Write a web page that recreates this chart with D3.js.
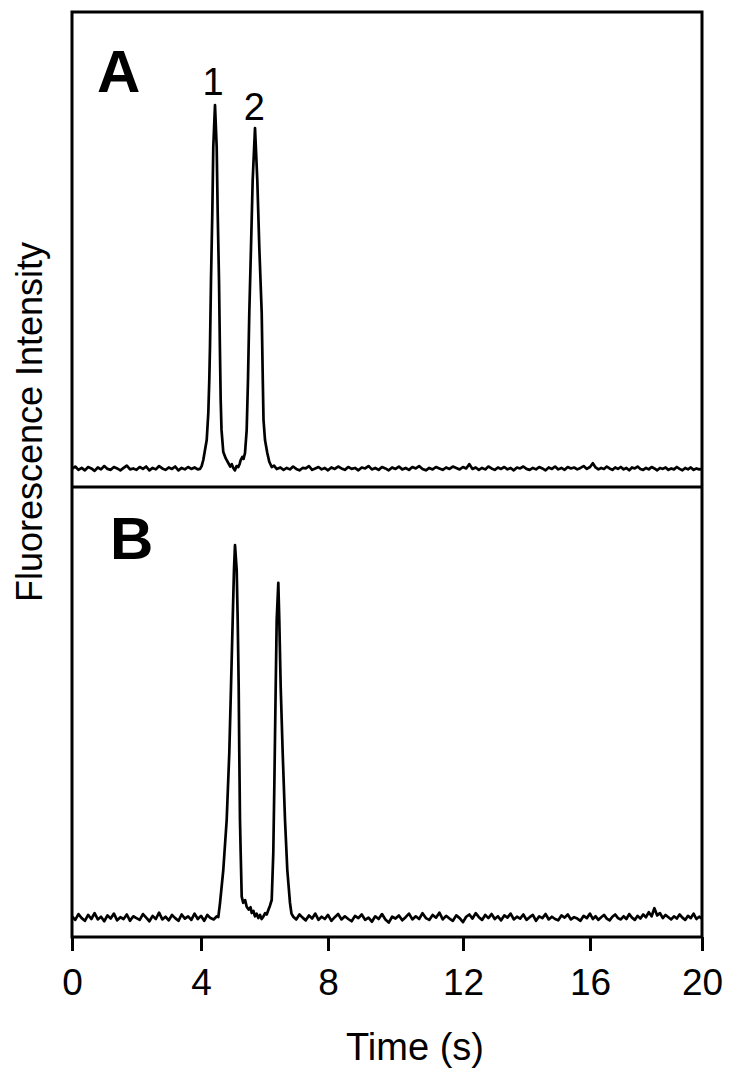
<!DOCTYPE html>
<html>
<head>
<meta charset="utf-8">
<script src="https://cdn.jsdelivr.net/npm/d3@7"></script>
<style>
  html, body { margin: 0; padding: 0; background: #fff; }
  svg { display: block; }
  text { font-family: "Liberation Sans", Arial, sans-serif; fill: #000; }
</style>
</head>
<body>
<svg id="chart" width="750" height="1079"></svg>
<script>
// ---- data ----
const xTickValues = [0, 4, 8, 12, 16, 20];
const xTickLabels = ["0", "4", "8", "12", "16", "20"];
const xTitle = "Time (s)";
const yTitle = "Fluorescence Intensity";
const panelLetters = ["A", "B"];

// Panel A trace: [time (s), intensity (a.u.)]
const traceA = [
  [0.0,3.8],[0.1,4.3],[0.2,3.6],[0.3,4.0],[0.4,3.5],[0.5,4.2],[0.6,3.9],[0.7,3.4],[0.8,4.1],[0.9,3.7],
  [1.0,4.4],[1.1,3.8],[1.2,3.6],[1.3,4.2],[1.4,3.9],[1.5,3.5],[1.6,4.0],[1.7,4.5],[1.8,3.7],[1.9,3.9],
  [2.0,3.6],[2.1,4.2],[2.2,3.8],[2.3,4.3],[2.4,3.5],[2.5,4.0],[2.6,3.7],[2.7,4.4],[2.8,3.9],[2.9,3.6],
  [3.0,4.1],[3.1,3.8],[3.2,4.3],[3.3,3.5],[3.4,4.0],[3.5,3.7],[3.6,4.2],[3.7,3.8],[3.8,4.1],[3.9,3.7],
  [3.97,3.8],[4.02,4.4],[4.072,5.67],[4.18,9.87],[4.23,15.55],[4.261,22.48],[4.283,29.41],[4.315,43.49],
  [4.356,57.56],[4.387,71.43],[4.441,80.25],[4.494,71.43],[4.526,57.56],[4.567,43.49],[4.595,29.41],
  [4.62,18.3],[4.646,12.0],[4.702,7.35],[4.78,6.0],[4.86,5.04],[4.92,4.3],[4.97,4.8],[5.017,3.99],
  [5.07,3.5],[5.12,4.4],[5.175,4.2],[5.22,4.9],[5.25,5.67],[5.30,6.3],[5.34,5.9],[5.386,7.14],
  [5.439,11.97],[5.48,22.48],[5.521,36.55],[5.575,50.4],[5.628,64.5],[5.701,75.4],[5.773,64.5],
  [5.836,50.4],[5.912,36.55],[5.946,22.48],[5.969,14.08],[6.016,9.87],[6.088,7.14],[6.15,5.3],
  [6.227,4.2],[6.30,4.5],[6.384,3.78],
  [6.5,4.1],[6.6,3.6],[6.7,4.0],[6.8,3.7],[6.9,4.3],[7.0,3.8],[7.1,3.5],[7.2,4.0],[7.3,3.9],[7.4,4.4],
  [7.5,3.6],[7.6,3.9],[7.7,4.2],[7.8,3.7],[7.9,4.0],[8.0,3.5],[8.1,4.1],[8.2,3.8],[8.3,4.3],[8.4,3.9],
  [8.5,3.6],[8.6,4.2],[8.7,3.8],[8.8,4.0],[8.9,3.5],[9.0,4.1],[9.1,3.9],[9.2,4.4],[9.3,3.7],[9.4,4.0],
  [9.5,3.6],[9.6,4.2],[9.7,3.9],[9.8,3.5],[9.9,4.1],[10.0,3.8],[10.1,4.3],[10.2,3.7],[10.3,4.0],[10.4,3.6],
  [10.5,4.2],[10.6,3.9],[10.7,4.4],[10.8,3.8],[10.9,3.5],[11.0,4.0],[11.1,3.7],[11.2,4.2],[11.3,3.9],[11.4,3.6],
  [11.5,4.1],[11.6,3.8],[11.7,4.3],[11.8,4.0],[11.9,3.7],[12.0,4.2],[12.1,3.9],[12.2,4.8],[12.3,3.8],[12.4,4.1],
  [12.5,3.6],[12.6,4.0],[12.7,3.7],[12.8,4.3],[12.9,3.9],[13.0,3.6],[13.1,4.1],[13.2,3.8],[13.3,4.2],[13.4,3.7],
  [13.5,4.0],[13.6,3.5],[13.7,4.1],[13.8,3.9],[13.9,4.3],[14.0,3.8],[14.1,3.6],[14.2,4.0],[14.3,3.7],[14.4,4.2],
  [14.5,3.9],[14.6,3.5],[14.7,4.1],[14.8,3.8],[14.9,4.3],[15.0,3.7],[15.1,4.0],[15.2,3.6],[15.3,4.2],[15.4,3.9],
  [15.5,4.1],[15.6,3.7],[15.7,4.0],[15.8,4.4],[15.9,3.8],[16.0,4.2],[16.1,5.0],[16.2,4.1],[16.3,3.7],[16.4,4.0],
  [16.5,3.8],[16.6,4.3],[16.7,3.9],[16.8,3.6],[16.9,4.1],[17.0,3.8],[17.1,4.2],[17.2,3.7],[17.3,4.0],[17.4,3.5],
  [17.5,4.1],[17.6,3.9],[17.7,4.3],[17.8,3.8],[17.9,3.6],[18.0,4.0],[18.1,3.7],[18.2,4.2],[18.3,3.9],[18.4,3.5],
  [18.5,4.0],[18.6,3.8],[18.7,4.1],[18.8,3.6],[18.9,3.9],[19.0,3.7],[19.1,4.2],[19.2,3.8],[19.3,3.5],[19.4,4.0],
  [19.5,3.7],[19.6,4.1],[19.7,3.6],[19.8,3.9],[19.9,3.7],[20.0,3.8]
];

// Panel B trace: [time (s), intensity (a.u.)]
const traceB = [
  [0.0,4.6],[0.1,3.8],[0.2,5.1],[0.3,4.2],[0.4,3.6],[0.5,4.9],[0.6,4.0],[0.7,5.3],[0.8,3.9],[0.9,4.5],
  [1.0,3.5],[1.1,4.8],[1.2,4.1],[1.3,5.2],[1.4,3.7],[1.5,4.4],[1.6,4.0],[1.7,5.0],[1.8,3.6],[1.9,4.6],
  [2.0,4.2],[2.1,3.8],[2.2,5.1],[2.3,4.3],[2.4,3.5],[2.5,4.7],[2.6,4.0],[2.7,5.4],[2.8,3.9],[2.9,4.5],
  [3.0,3.7],[3.1,4.9],[3.2,4.2],[3.3,3.6],[3.4,5.0],[3.5,4.1],[3.6,4.6],[3.7,3.8],[3.8,5.2],[3.9,4.0],
  [4.0,4.7],[4.1,3.6],[4.2,4.9],[4.3,4.2],[4.4,3.9],[4.5,4.6],
  [4.545,4.44],[4.598,7.49],[4.702,14.89],[4.809,26.0],[4.891,40.9],[4.945,55.6],[4.998,70.4],
  [5.039,81.6],[5.071,87.1],[5.124,81.6],[5.156,70.4],[5.187,55.6],[5.206,40.9],[5.228,26.0],
  [5.25,18.7],[5.282,8.96],[5.33,7.6],[5.39,8.2],[5.439,6.73],[5.50,6.1],[5.56,6.6],[5.597,5.33],
  [5.65,5.8],[5.70,4.6],[5.75,5.2],[5.805,4.22],[5.86,4.9],[5.91,4.0],[5.962,4.51],[6.02,5.3],
  [6.07,5.0],[6.12,6.0],[6.17,6.9],[6.227,8.22],[6.277,18.7],[6.309,33.4],[6.353,55.6],[6.384,70.4],
  [6.435,78.7],[6.466,70.4],[6.51,55.6],[6.573,40.9],[6.646,26.0],[6.718,14.89],[6.803,7.56],
  [6.85,5.2],[6.907,4.51],
  [7.0,3.9],[7.1,5.0],[7.2,4.3],[7.3,3.7],[7.4,4.8],[7.5,4.1],[7.6,5.2],[7.7,3.8],[7.8,4.5],[7.9,4.0],
  [8.0,4.9],[8.1,3.6],[8.2,4.4],[8.3,5.1],[8.4,3.9],[8.5,4.6],[8.6,4.0],[8.7,3.5],[8.8,4.7],[8.9,4.2],
  [9.0,5.0],[9.1,3.8],[9.2,4.3],[9.3,3.4],[9.4,4.6],[9.5,4.0],[9.6,5.1],[9.7,3.9],[9.8,3.2],[9.9,4.5],
  [10.0,4.1],[10.1,4.8],[10.2,3.7],[10.3,4.4],[10.4,5.2],[10.5,3.9],[10.6,4.6],[10.7,4.0],[10.8,5.3],[10.9,4.2],
  [11.0,3.8],[11.1,4.9],[11.2,4.3],[11.3,5.4],[11.4,3.9],[11.5,4.7],[11.6,4.1],[11.7,3.6],[11.8,4.8],[11.9,4.2],
  [12.0,3.3],[12.1,4.5],[12.2,5.0],[12.3,4.1],[12.4,5.3],[12.5,4.4],[12.6,3.8],[12.7,4.9],[12.8,4.2],[12.9,5.1],
  [13.0,4.0],[13.1,4.6],[13.2,3.7],[13.3,4.8],[13.4,4.3],[13.5,5.2],[13.6,3.9],[13.7,4.5],[13.8,4.1],[13.9,5.0],
  [14.0,3.8],[14.1,4.4],[14.2,4.9],[14.3,3.6],[14.4,4.6],[14.5,4.2],[14.6,5.1],[14.7,3.9],[14.8,4.5],[14.9,4.0],
  [15.0,3.7],[15.1,4.8],[15.2,4.3],[15.3,5.0],[15.4,3.9],[15.5,4.4],[15.6,4.1],[15.7,3.6],[15.8,4.7],[15.9,4.2],
  [16.0,5.2],[16.1,4.0],[16.2,4.6],[16.3,3.8],[16.4,4.4],[16.5,4.9],[16.6,4.1],[16.7,3.7],[16.8,4.5],[16.9,5.0],
  [17.0,4.2],[17.1,3.9],[17.2,4.6],[17.3,4.0],[17.4,5.1],[17.5,4.3],[17.6,3.8],[17.7,4.7],[17.8,4.1],[17.9,5.0],
  [18.0,4.4],[18.1,5.5],[18.2,4.6],[18.3,6.4],[18.4,4.8],[18.5,5.3],[18.6,4.2],[18.7,4.9],[18.8,4.4],[18.9,3.9],
  [19.0,4.6],[19.1,4.1],[19.2,5.0],[19.3,4.3],[19.4,3.8],[19.5,4.7],[19.6,4.2],[19.7,5.2],[19.8,4.0],[19.9,4.5],
  [20.0,4.1]
];

// Peak annotations in panel A: [label, time, intensity]
const peakLabelsA = [["1", 4.38, 82.4], ["2", 5.68, 77.1]];

// ---- drawing ----
const svg = d3.select("#chart");
const frameL = 72, frameR = 702, frameT = 12, frameMid = 487, frameB = 937;

// axis as printed: tick marks are not evenly spaced, so use a polylinear scale through them
const x = d3.scaleLinear()
  .domain(xTickValues)
  .range([72, 201, 328, 463, 590, 702]);

const yA = d3.scaleLinear().domain([0, 100]).range([frameMid, frameMid - 476]);
const yB = d3.scaleLinear().domain([0, 100]).range([frameB, frameMid]);

svg.append("defs").append("clipPath").attr("id", "clip")
  .append("rect").attr("x", frameL).attr("y", frameT)
  .attr("width", frameR - frameL).attr("height", frameB - frameT);

const plot = svg.append("g").attr("clip-path", "url(#clip)");

function drawTrace(data, y) {
  const line = d3.line().x(d => x(d[0])).y(d => y(d[1]));
  plot.append("path")
    .datum(data)
    .attr("d", line)
    .attr("fill", "none")
    .attr("stroke", "#000")
    .attr("stroke-width", 2.7)
    .attr("stroke-linejoin", "round");
}
drawTrace(traceA, yA);
drawTrace(traceB, yB);

// frame and divider
svg.append("rect")
  .attr("x", frameL).attr("y", frameT)
  .attr("width", frameR - frameL).attr("height", frameB - frameT)
  .attr("fill", "none").attr("stroke", "#000").attr("stroke-width", 3);
svg.append("line")
  .attr("x1", frameL).attr("x2", frameR).attr("y1", frameMid).attr("y2", frameMid)
  .attr("stroke", "#000").attr("stroke-width", 3);

// bottom axis
const axis = d3.axisBottom(x)
  .tickValues(xTickValues)
  .tickFormat((d, i) => xTickLabels[i])
  .tickSize(14)
  .tickSizeOuter(0);
const gx = svg.append("g").attr("transform", `translate(0,${frameB})`).call(axis);
gx.select(".domain").remove();
gx.selectAll(".tick line").attr("stroke", "#000").attr("stroke-width", 3);
gx.selectAll(".tick text")
  .attr("y", 58).attr("dy", 0)
  .attr("font-size", 37)
  .attr("font-family", "Liberation Sans, Arial, sans-serif")
  .attr("fill", "#000");

// axis titles
svg.append("text")
  .attr("x", 415).attr("y", 1060)
  .attr("text-anchor", "middle")
  .attr("font-size", 38)
  .text(xTitle);
svg.append("text")
  .attr("transform", "translate(42,422) rotate(-90)")
  .attr("text-anchor", "middle")
  .attr("font-size", 36)
  .text(yTitle);

// panel letters
svg.append("text").attr("x", 97).attr("y", 92)
  .attr("font-size", 60).attr("font-weight", "bold").text(panelLetters[0]);
svg.append("text").attr("x", 110).attr("y", 559)
  .attr("font-size", 60).attr("font-weight", "bold").text(panelLetters[1]);

// peak labels
svg.selectAll(".peaklabel").data(peakLabelsA).enter().append("text")
  .attr("class", "peaklabel")
  .attr("x", d => x(d[1])).attr("y", d => yA(d[2]))
  .attr("text-anchor", "middle")
  .attr("font-size", 38)
  .text(d => d[0]);
</script>
</body>
</html>
